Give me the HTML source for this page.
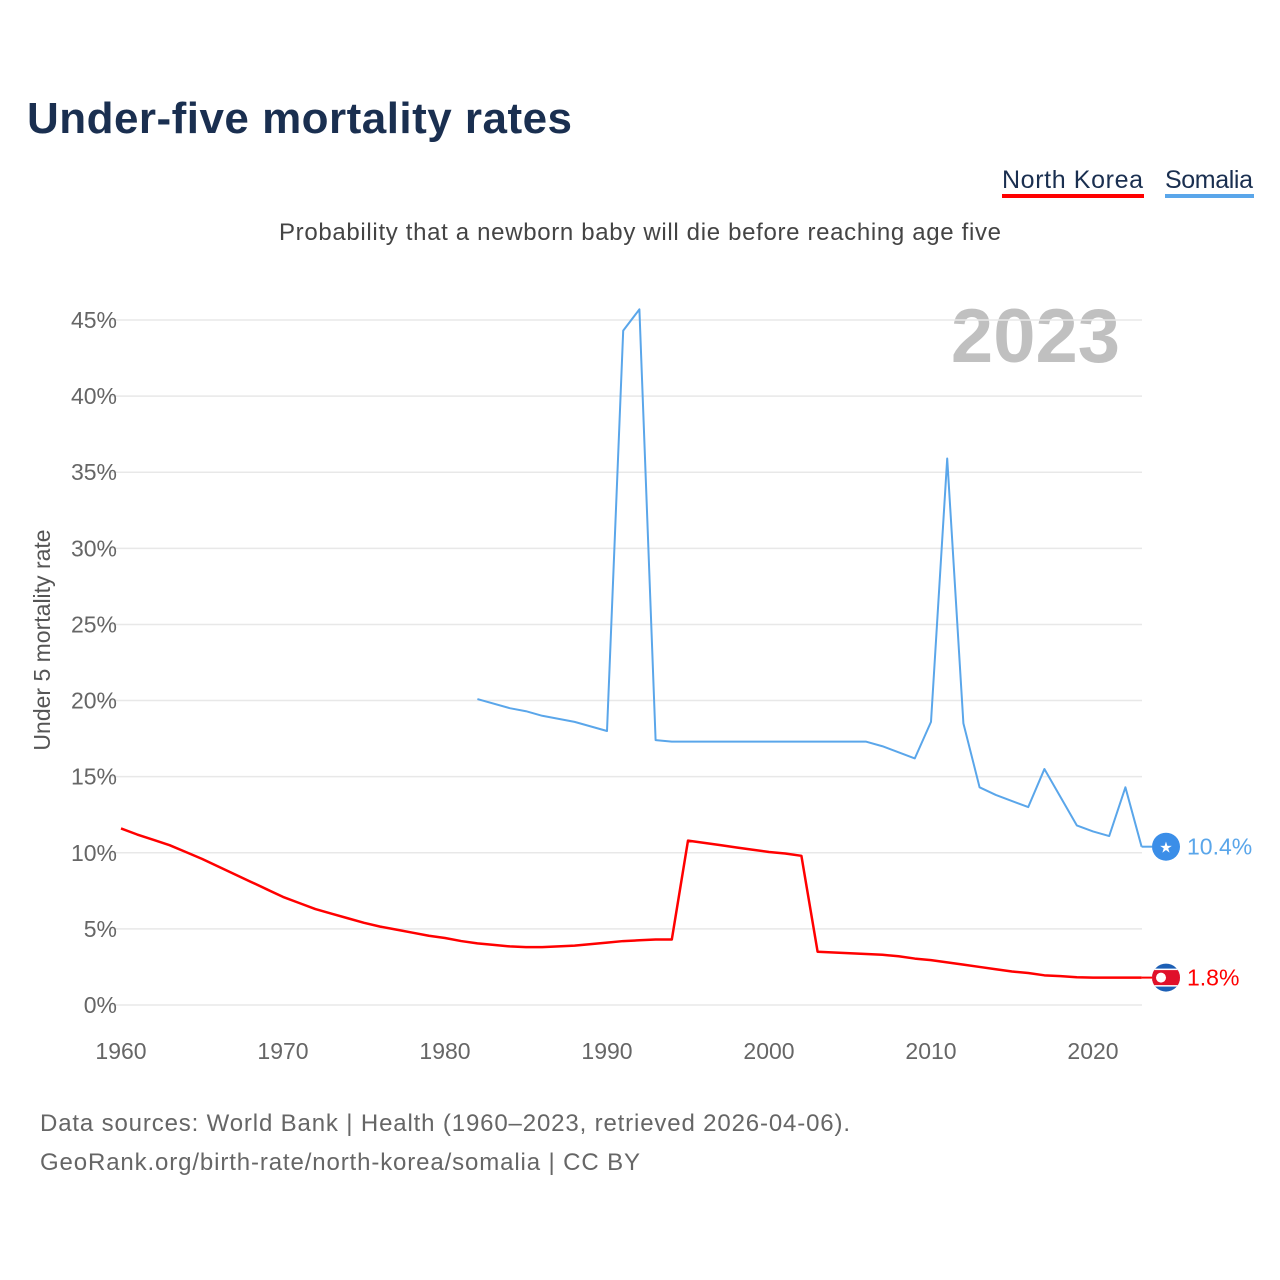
<!DOCTYPE html>
<html><head><meta charset="utf-8"><style>
body{margin:0;background:#fff;font-family:"Liberation Sans",sans-serif;}
#wrap{position:relative;width:1280px;height:1280px;overflow:hidden;}
</style></head><body><div id="wrap">
<svg id="svg" width="1280" height="1280">
<text x="27" y="133" font-size="44" font-weight="bold" fill="#1a2f50" textLength="545">Under-five mortality rates</text>
<g><text x="1002" y="188" font-size="25" fill="#1a2f50" textLength="141">North Korea</text><rect x="1002" y="194" width="142" height="4" fill="#ff0000"/></g>
<g><text x="1165" y="188" font-size="25" fill="#1a2f50" textLength="88">Somalia</text><rect x="1165" y="194" width="89" height="4" fill="#5aa6ea"/></g>
<text x="640" y="240" font-size="24" fill="#444" text-anchor="middle" textLength="722">Probability that a newborn baby will die before reaching age five</text>
<text x="1120" y="362" font-size="76" font-weight="bold" fill="#c0c0c0" text-anchor="end">2023</text>
<text transform="translate(50,640) rotate(-90)" font-size="23" fill="#555" text-anchor="middle">Under 5 mortality rate</text>
<g id="grid"></g><g id="xt"></g><g id="lines"></g>
<text x="40" y="1131" font-size="24" fill="#666" textLength="810">Data sources: World Bank | Health (1960–2023, retrieved 2026-04-06).</text>
<text x="40" y="1170" font-size="24" fill="#666" textLength="600">GeoRank.org/birth-rate/north-korea/somalia | CC BY</text>
</svg></div>
<script>
const yTicks=[0,5,10,15,20,25,30,35,40,45];
const xTicks=[1960,1970,1980,1990,2000,2010,2020];
const nkYears=[1960,1961,1962,1963,1964,1965,1966,1967,1968,1969,1970,1971,1972,1973,1974,1975,1976,1977,1978,1979,1980,1981,1982,1983,1984,1985,1986,1987,1988,1989,1990,1991,1992,1993,1994,1995,1996,1997,1998,1999,2000,2001,2002,2003,2004,2005,2006,2007,2008,2009,2010,2011,2012,2013,2014,2015,2016,2017,2018,2019,2020,2021,2022,2023];
const nkValues=[11.6,11.2,10.85,10.5,10.05,9.6,9.1,8.6,8.1,7.6,7.1,6.7,6.3,6.0,5.7,5.4,5.15,4.95,4.75,4.55,4.4,4.2,4.05,3.95,3.85,3.8,3.8,3.85,3.9,4.0,4.1,4.2,4.25,4.3,4.3,10.8,10.65,10.5,10.35,10.2,10.05,9.95,9.8,3.5,3.45,3.4,3.35,3.3,3.2,3.05,2.95,2.8,2.65,2.5,2.35,2.2,2.1,1.95,1.9,1.82,1.8,1.8,1.8,1.8];
const soYears=[1982,1984,1985,1986,1988,1990,1991,1992,1993,1994,1995,2000,2006,2007,2009,2010,2011,2012,2013,2014,2016,2017,2019,2020,2021,2022,2023];
const soValues=[20.1,19.5,19.3,19.0,18.6,18.0,44.3,45.7,17.4,17.3,17.3,17.3,17.3,17.0,16.2,18.6,35.9,18.5,14.3,13.8,13.0,15.5,11.8,11.4,11.1,14.3,10.4];
const ns="http://www.w3.org/2000/svg";
const X=y=>121+(y-1960)*16.2, Y=v=>1005-v*15.222;
function mk(t,a,p){const e=document.createElementNS(ns,t);for(const k in a)e.setAttribute(k,a[k]);p.appendChild(e);return e;}
const g=document.getElementById('grid');
yTicks.forEach(v=>{
 const l=mk('line',{x1:110,x2:1142,y1:Y(v),y2:Y(v),stroke:'#e8e8e8','stroke-width':1.5},g);
 
 
 const t=mk('text',{x:117,y:Y(v)+8,'font-size':23,fill:'#666','text-anchor':'end'},g);t.textContent=v+'%';
 
 
});
const xt=document.getElementById('xt');
xTicks.forEach(v=>{
 const t=mk('text',{x:X(v),y:1059,'font-size':23,fill:'#666','text-anchor':'middle'},xt);t.textContent=v;
 
 
});
const L=document.getElementById('lines');
function line(xs,vs,c,name){
 const p=mk('polyline',{points:xs.map((x,i)=>X(x)+','+Y(vs[i])).join(' '),fill:'none',stroke:c,'stroke-width':c=='#ff0000'?2.5:2,'stroke-linejoin':'round'},L);
 
 
}
line(soYears,soValues,'#5aa6ea','somalia-line');
line(nkYears,nkValues,'#ff0000','north-korea-line');
const sv=soValues[soValues.length-1], nv=nkValues[nkValues.length-1];
mk('line',{x1:X(2023),x2:1152,y1:Y(sv),y2:Y(sv),stroke:'#5aa6ea','stroke-width':2},L);
mk('line',{x1:X(2023),x2:1152,y1:Y(nv),y2:Y(nv),stroke:'#ff0000','stroke-width':2},L);
const sd=mk('circle',{cx:1166,cy:Y(sv),r:14,fill:'#3b8ee8'},L);


const st=mk('text',{x:1166,y:Y(sv)+6,'font-size':15,fill:'#fff','text-anchor':'middle'},L);st.textContent='★';
const sl=mk('text',{x:1187,y:Y(sv)+8,'font-size':23,fill:'#5aa6ea'},L);sl.textContent=sv.toFixed(1)+'%';


const cp=mk('clipPath',{id:'nkc'},L);mk('circle',{cx:1166,cy:Y(nv),r:14},cp);
const fg=mk('g',{'clip-path':'url(#nkc)'},L);


mk('rect',{x:1150,y:Y(nv)-15,width:32,height:30,fill:'#1c5fb5'},fg);
mk('rect',{x:1150,y:Y(nv)-9,width:32,height:18,fill:'#fff'},fg);
mk('rect',{x:1150,y:Y(nv)-7.5,width:32,height:15,fill:'#e0102a'},fg);
mk('circle',{cx:1161,cy:Y(nv),r:5,fill:'#fff'},fg);
const nl=mk('text',{x:1187,y:Y(nv)+8,'font-size':23,fill:'#ff0000'},L);nl.textContent=nv.toFixed(1)+'%';


</script></body></html>
